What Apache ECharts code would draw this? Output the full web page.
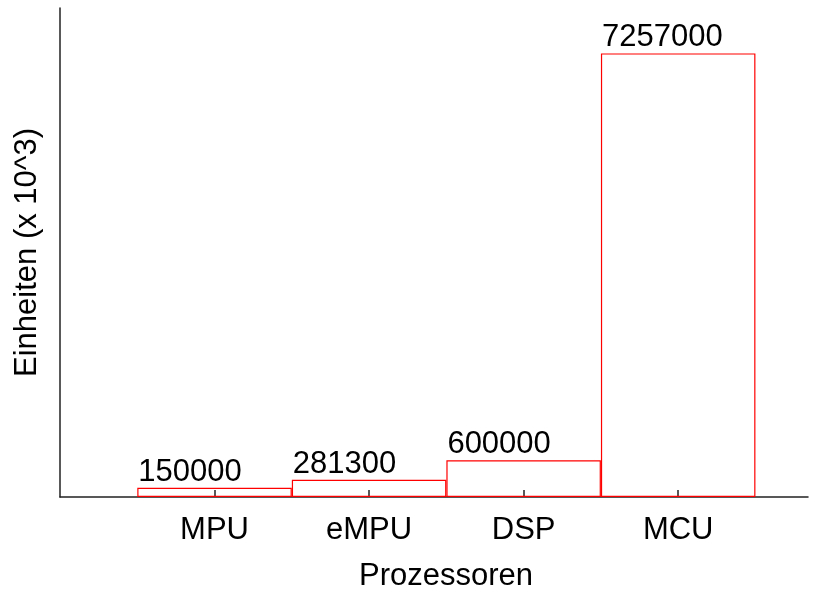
<!DOCTYPE html>
<html><head><meta charset="utf-8">
<script src="https://cdn.jsdelivr.net/npm/echarts@6/dist/echarts.min.js"></script>
<style>html,body{margin:0;padding:0;background:#fff}#c{width:823px;height:593px}</style>
</head><body><div id="c"></div>
<script>
var categories = ['MPU', 'eMPU', 'DSP', 'MCU'];
var values = [150000, 281300, 600000, 7257000];
var positions = [1, 2, 3, 4];

var font = 'Liberation Sans, Arial, Helvetica, sans-serif';
var chart = echarts.init(document.getElementById('c'), null, {renderer: 'canvas'});
chart.setOption({
  animation: false,
  backgroundColor: '#fff',
  grid: {left: 60, right: 15, top: 8, bottom: 96, containLabel: false, outerBoundsMode: 'none'},
  xAxis: {
    type: 'value', min: 0, max: 4.84,
    name: 'Prozessoren', nameLocation: 'middle', nameGap: 64,
    nameTextStyle: {fontFamily: font, fontSize: 31, color: '#000', padding: [0, 0, 0, 24]},
    axisLine: {show: true, lineStyle: {color: '#222', width: 1.5}},
    axisTick: {show: true, inside: true, length: 7, customValues: positions, lineStyle: {color: '#222', width: 1.5}},
    axisLabel: {show: true, customValues: positions, margin: 18, fontFamily: font, fontSize: 31, color: '#000',
      formatter: function (v) { var i = positions.indexOf(v); return i >= 0 ? categories[i] : ''; }},
    splitLine: {show: false}
  },
  yAxis: {
    type: 'value', min: 0, max: 8000000,
    name: 'Einheiten (x 10^3)', nameLocation: 'middle', nameGap: 17, nameRotate: 90,
    nameTextStyle: {fontFamily: font, fontSize: 31, color: '#000'},
    axisLine: {show: true, lineStyle: {color: '#222', width: 1.5}},
    axisTick: {show: false}, axisLabel: {show: false}, splitLine: {show: false}
  },
  series: [{
    type: 'bar',
    barWidth: 154.5,
    data: positions.map(function (p, i) { return [p, values[i]]; }),
    itemStyle: {color: 'rgba(255,255,255,0)', borderColor: '#ff0000', borderWidth: 1.2},
    label: {show: true, position: [1, 0], align: 'left', verticalAlign: 'bottom',
      fontFamily: font, fontSize: 31, color: '#000',
      formatter: function (p) { return String(p.value[1]); }}
  }]
});
</script></body></html>
